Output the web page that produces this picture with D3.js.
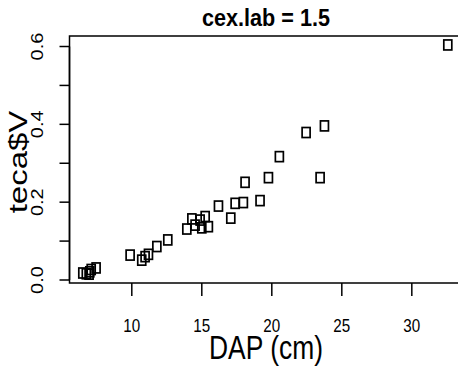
<!DOCTYPE html>
<html>
<head>
<meta charset="utf-8">
<script src="https://cdn.jsdelivr.net/npm/d3@7"></script>
<style>
  body { margin: 0; background: white; }
  text { font-family: "Liberation Sans", Arial, sans-serif; fill: black; }
</style>
</head>
<body>
<div id="chart-container"></div>
<script>
// DAP (cm) values
const dap = [6.5, 6.75, 6.95, 7.0, 7.1, 7.45,
  9.88, 10.71, 10.95, 11.19, 11.79, 12.57,
  13.93, 14.29, 14.52, 14.88, 15.0, 15.24, 15.47, 16.19, 17.07,
  17.38, 17.97, 18.09, 19.16, 19.76, 20.54, 22.45, 23.45, 23.76,
  32.57];
// teca$V values
const volume = [0.018, 0.016, 0.015, 0.021, 0.027, 0.031,
  0.064, 0.051, 0.060, 0.066, 0.086, 0.103,
  0.131, 0.157, 0.141, 0.154, 0.134, 0.163, 0.137, 0.190, 0.159,
  0.197, 0.199, 0.251, 0.204, 0.263, 0.317, 0.379, 0.263, 0.396,
  0.604];
const xTicks = [10, 15, 20, 25, 30];
const yTicks = [0.0, 0.1, 0.2, 0.3, 0.4, 0.5, 0.6];
const yTickLabels = ["0.0", "", "0.2", "", "0.4", "", "0.6"];

const width = 458;
const height = 370;
const plot = { left: 69.5, right: 462.5, top: 36, bottom: 283 };
const squeeze = 0.8; // the picture is narrower than tall

const svg = d3.select("#chart-container")
  .append("svg")
  .attr("width", width)
  .attr("height", height);

const x = d3.scaleLinear().domain([5.55, 33.62]).range([plot.left, plot.right]);
const y = d3.scaleLinear().domain([-0.0077, 0.627]).range([plot.bottom, plot.top]);

// box around the plot region
svg.append("rect")
  .attr("x", plot.left)
  .attr("y", plot.top)
  .attr("width", plot.right - plot.left)
  .attr("height", plot.bottom - plot.top)
  .style("fill", "none")
  .style("stroke", "black")
  .style("stroke-width", 1.5);

// x axis
xTicks.forEach((t) => {
  svg.append("line")
    .attr("x1", x(t)).attr("x2", x(t))
    .attr("y1", plot.bottom).attr("y2", plot.bottom + 13)
    .style("stroke", "black")
    .style("stroke-width", 1.5);
  svg.append("text")
    .attr("transform", `translate(${x(t)},332) scale(${squeeze},1)`)
    .attr("text-anchor", "middle")
    .style("font-size", "19px")
    .text(t);
});

// y axis
svg.append("line")
  .attr("x1", plot.left).attr("x2", plot.left)
  .attr("y1", y(0)).attr("y2", y(0.6))
  .style("stroke", "black")
  .style("stroke-width", 1.5);
yTicks.forEach((t, i) => {
  svg.append("line")
    .attr("x1", plot.left - 10).attr("x2", plot.left)
    .attr("y1", y(t)).attr("y2", y(t))
    .style("stroke", "black")
    .style("stroke-width", 1.5);
  svg.append("text")
    .attr("transform", `translate(43,${y(t)}) scale(${squeeze},1) rotate(-90)`)
    .attr("text-anchor", "middle")
    .style("font-size", "20px")
    .text(yTickLabels[i]);
});

// points (pch = 0)
const boxW = 8, boxH = 10;
svg.append("g")
  .selectAll("rect")
  .data(dap.map((d, i) => [d, volume[i]]))
  .join("rect")
  .attr("x", (d) => x(d[0]) - boxW / 2)
  .attr("y", (d) => y(d[1]) - boxH / 2)
  .attr("width", boxW)
  .attr("height", boxH)
  .style("fill", "none")
  .style("stroke", "black")
  .style("stroke-width", 1.7);

// title and labels
svg.append("text")
  .attr("transform", `translate(266,25.5) scale(0.9,1)`)
  .attr("text-anchor", "middle")
  .style("font-size", "24px")
  .style("font-weight", "bold")
  .text("cex.lab = 1.5");

svg.append("text")
  .attr("transform", `translate(266,359) scale(${squeeze},1)`)
  .attr("text-anchor", "middle")
  .style("font-size", "33px")
  .text("DAP (cm)");

svg.append("text")
  .attr("transform", `translate(27,162) scale(${squeeze},1) rotate(-90)`)
  .attr("text-anchor", "middle")
  .style("font-size", "33px")
  .text("teca$V");
</script>
</body>
</html>
